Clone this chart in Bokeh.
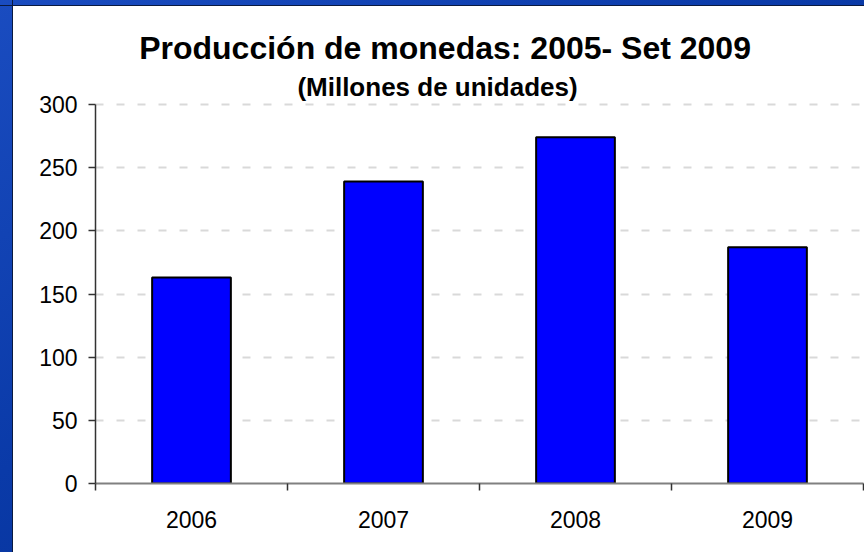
from bokeh.plotting import figure
from bokeh.models import Range1d, FixedTicker, Label, GlobalInlineStyleSheet
from bokeh.embed import file_html
from bokeh.resources import INLINE

years = ["2006", "2007", "2008", "2009"]
values = [163, 239, 274, 187]
y_ticks = [0, 50, 100, 150, 200, 250, 300]
title_text = "Producción de monedas:  2005- Set 2009"
subtitle_text = "(Millones de unidades)"

xs = list(range(1, len(years) + 1))

# ---- layout (pixels) ----
W, H = 851, 546            # figure canvas
LEFT, RIGHT, BOTTOM = 82, 1, 69
frame_h = H - BOTTOM       # frame spans from canvas top to the x axis
axis_px = 379              # pixel height of the 0..300 axis
y_max_axis = 300
y_top = y_max_axis * frame_h / axis_px
frame_w = W - LEFT - RIGHT
px_per_unit = axis_px / y_max_axis

def xdata(canvas_x):
    return 0.5 + (canvas_x - LEFT) / (frame_w / len(years))

def ydata(canvas_y):
    return (frame_h - canvas_y) / px_per_unit

css = """
html, body { overflow: hidden; margin: 0; }
body {
  background:
    linear-gradient(to bottom, rgba(0,0,0,0) 5px, #0a1a40 5px, #0a1a40 6px, rgba(0,0,0,0) 6px),
    linear-gradient(to right, rgba(0,0,0,0) 12px, #0a1a40 12px, #0a1a40 13px, rgba(0,0,0,0) 13px),
    linear-gradient(150deg, #1a4cc0 0%, #0a3aa8 45%, #00298a 100%);
}
"""

p = figure(width=W, height=H,
           x_range=Range1d(0.5, len(years) + 0.5), y_range=Range1d(0, y_top),
           output_backend="svg", toolbar_location=None, title_location=None,
           min_border_left=LEFT, min_border_right=RIGHT, min_border_top=0, min_border_bottom=BOTTOM,
           styles={"margin-left": "13px", "margin-top": "6px", "background-color": "white"},
           stylesheets=[GlobalInlineStyleSheet(css=css)])

p.background_fill_color = "white"
p.border_fill_color = "white"
p.outline_line_color = None

p.vbar(x=xs, top=values, width=0.41, fill_color="#0000ff", line_color="black", line_width=2)

font = "Liberation Sans"

yax = p.yaxis[0]
yax.ticker = FixedTicker(ticks=y_ticks)
yax.bounds = (0.0, float(y_max_axis))
yax.axis_line_color = "#333333"
yax.axis_line_width = 1.5
yax.major_tick_line_color = "#333333"
yax.major_tick_line_width = 1.5
yax.major_tick_out = 7
yax.major_tick_in = 0
yax.minor_tick_line_color = None
yax.major_label_standoff = 11
yax.major_label_text_font = font
yax.major_label_text_font_size = "23px"
yax.major_label_text_color = "black"

xax = p.xaxis[0]
xax.ticker = FixedTicker(ticks=xs, minor_ticks=[x - 0.5 for x in xs] + [xs[-1] + 0.5])
xax.major_label_overrides = {x: y for x, y in zip(xs, years)}
xax.major_tick_line_color = None
xax.minor_tick_line_color = "#333333"
xax.minor_tick_line_width = 1.5
xax.minor_tick_out = 7
xax.minor_tick_in = 0
xax.axis_line_color = "#808080"
xax.axis_line_width = 2
xax.major_label_standoff = 20
xax.major_label_text_font = font
xax.major_label_text_font_size = "23px"
xax.major_label_text_color = "black"

p.xgrid.visible = False
p.ygrid.ticker = FixedTicker(ticks=y_ticks)
p.ygrid.grid_line_color = "#d9d9d9"
p.ygrid.grid_line_dash = "8 13"
p.ygrid.grid_line_width = 2

# title block (centres measured in page pixels, converted to canvas)
p.add_layout(Label(x=xdata(449 - 13), y=ydata(47 - 6), text=title_text, text_font=font,
                   text_font_size="32px", text_font_style="bold", text_align="center",
                   text_baseline="middle", text_color="black"))
p.add_layout(Label(x=xdata(437 - 13), y=ydata(86 - 6), text=subtitle_text, text_font=font,
                   text_font_size="26px", text_font_style="bold", text_align="center",
                   text_baseline="middle", text_color="black"))

open("out.html", "w").write(file_html(p, INLINE))
